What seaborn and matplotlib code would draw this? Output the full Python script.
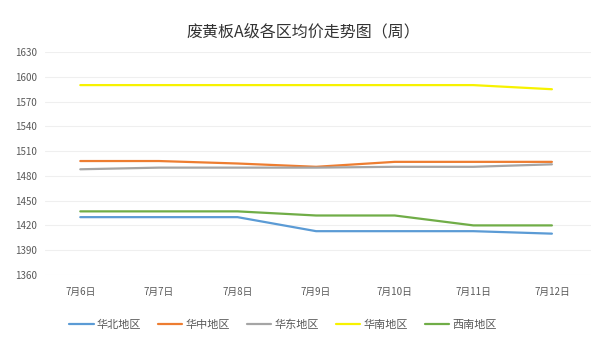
import matplotlib
matplotlib.use("Agg")
import matplotlib.pyplot as plt
import seaborn as sns
import pandas as pd

dates = ["7月6日", "7月7日", "7月8日", "7月9日", "7月10日", "7月11日", "7月12日"]
regions = ["华北地区", "华中地区", "华东地区", "华南地区", "西南地区"]
huabei = [1430, 1430, 1430, 1413, 1413, 1413, 1410]
huazhong = [1498, 1498, 1495, 1491, 1497, 1497, 1497]
huadong = [1488, 1490, 1490, 1490, 1491, 1491, 1494]
huanan = [1590, 1590, 1590, 1590, 1590, 1590, 1585]
xinan = [1437, 1437, 1437, 1432, 1432, 1420, 1420]
colors = ["#5B9BD5", "#ED7D31", "#A5A5A5", "#F7F200", "#70AD47"]
yticks = [1360, 1390, 1420, 1450, 1480, 1510, 1540, 1570, 1600, 1630]

sns.set_style("white")
plt.rcParams['font.family'] = ['Noto Sans CJK SC', 'DejaVu Sans']

rows = []
for name, vals in zip(regions, [huabei, huazhong, huadong, huanan, xinan]):
    for i, (d, v) in enumerate(zip(dates, vals)):
        rows.append({"idx": i, "date": d, "region": name, "price": v})
df = pd.DataFrame(rows)

fig = plt.figure(figsize=(6.07, 3.52), dpi=100)
ax = fig.add_axes([0.074, 0.219, 0.9, 0.633])
sns.lineplot(data=df, x="idx", y="price", hue="region", hue_order=regions,
             palette=colors, linewidth=1.6, ax=ax, legend=True)

ax.set_ylim(1360, 1630)
ax.set_yticks(yticks)
ax.set_xlim(-0.45, 6.5)
ax.set_xticks(range(len(dates)))
ax.set_xticklabels(dates)
ax.grid(axis="y", color="#EFEFEF", linewidth=0.8)
ax.set_axisbelow(True)
for s in ax.spines.values():
    s.set_visible(False)
ax.tick_params(axis="both", length=0, labelsize=7, labelcolor="#595959")
ax.tick_params(axis="x", pad=9)
ax.tick_params(axis="y", pad=21.5)
for lab in ax.get_yticklabels():
    lab.set_horizontalalignment("left")
ax.set_xlabel("")
ax.set_ylabel("")

fig.text(0.5, 0.91, "废黄板A级各区均价走势图（周）", ha="center", va="center",
         fontsize=11.5, color="#333333")

handles, labels = ax.get_legend_handles_labels()
ax.legend(handles, labels, loc="center", bbox_to_anchor=(0.436, -0.224), ncol=5,
          frameon=False, fontsize=8, labelcolor="#595959", handlelength=2.2,
          handletextpad=0.3, columnspacing=1.5)

fig.savefig("out.png", dpi=100, facecolor="white")
